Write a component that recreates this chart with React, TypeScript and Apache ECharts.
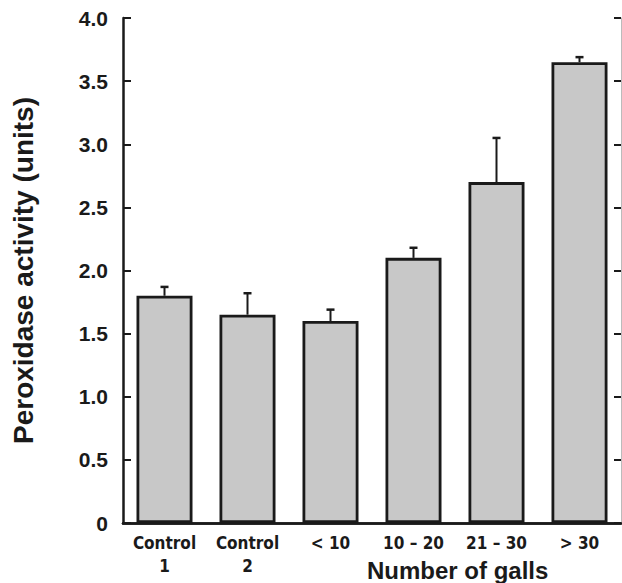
import React, { useEffect, useRef } from "react";
import * as echarts from "echarts";

const categories = ["Control\n1", "Control\n2", "< 10", "10 – 20", "21 – 30", "> 30"];
const activity = [1.8, 1.65, 1.6, 2.1, 2.7, 3.65];
const errorTop = [1.87, 1.82, 1.69, 2.18, 3.05, 3.69];
const yTicks = { min: 0, max: 4, interval: 0.5 };

export default function App() {
  const ref = useRef<HTMLDivElement>(null);
  useEffect(() => {
    if (!ref.current) return;
    const chart = echarts.init(ref.current, undefined, { renderer: "svg" });
    const black = "#1a1a1a";
    const errData = activity.map((v, i) => [i, v, errorTop[i]]);
    chart.setOption({
      animation: false,
      grid: { left: 123, right: 1, top: 18, bottom: 60 },
      xAxis: [
        {
          type: "category",
          data: categories,
          position: "bottom",
          axisLine: { lineStyle: { color: black, width: 2.5 } },
          axisTick: { inside: true, length: 6, lineStyle: { color: black, width: 2 } },
          axisLabel: {
            color: black,
            fontFamily: "'Liberation Sans Narrow', 'DejaVu Sans Condensed', 'Arial Narrow', sans-serif",
            fontWeight: "bold",
            fontSize: 17,
            lineHeight: 23,
            margin: 8,
          },
        },
        {
          type: "category",
          data: categories,
          position: "top",
          axisLine: { lineStyle: { color: black, width: 2.5 } },
          axisTick: { inside: true, length: 7, lineStyle: { color: black, width: 2 } },
          axisLabel: { show: false },
        },
      ],
      yAxis: [
        {
          type: "value",
          ...yTicks,
          position: "left",
          name: "Peroxidase activity (units)",
          nameLocation: "middle",
          nameGap: 86,
          nameTextStyle: {
            color: black,
            fontFamily: "'Liberation Sans', Arial, sans-serif",
            fontWeight: "bold",
            fontSize: 28,
          },
          splitLine: { show: false },
          axisLine: { show: true, lineStyle: { color: black, width: 2.5 } },
          axisTick: { show: true, inside: true, length: 8, lineStyle: { color: black, width: 2 } },
          axisLabel: {
            color: black,
            fontFamily: "'Liberation Sans', Arial, sans-serif",
            fontWeight: "bold",
            fontSize: 21,
            margin: 15,
            formatter: (v: number) => (v === 0 ? "0" : v.toFixed(1)),
          },
        },
        {
          type: "value",
          ...yTicks,
          position: "right",
          splitLine: { show: false },
          axisLine: { show: true, lineStyle: { color: "#bbb", width: 1 } },
          axisTick: { show: true, inside: true, length: 7, lineStyle: { color: black, width: 2 } },
          axisLabel: { show: false },
        },
      ],
      graphic: [
        {
          type: "text",
          left: 367,
          top: 558,
          style: {
            text: "Number of galls",
            fill: black,
            font: "bold 24px 'Liberation Sans', Arial, sans-serif",
          },
        },
      ],
      series: [
        {
          type: "bar",
          data: activity,
          barWidth: 56,
          itemStyle: { color: "#c8c8c8", borderColor: black, borderWidth: 2.8 },
        },
        {
          type: "custom",
          data: errData,
          z: 5,
          renderItem: (params: any, api: any) => {
            const base = api.coord([api.value(0), api.value(1)]);
            const top = api.coord([api.value(0), api.value(2)]);
            return {
              type: "group",
              children: [
                {
                  type: "line",
                  shape: { x1: base[0], y1: base[1], x2: top[0], y2: top[1] },
                  style: { stroke: black, lineWidth: 2 },
                },
                {
                  type: "line",
                  shape: { x1: top[0] - 4, y1: top[1], x2: top[0] + 4, y2: top[1] },
                  style: { stroke: black, lineWidth: 2.5 },
                },
              ],
            };
          },
        },
      ],
    });
    return () => chart.dispose();
  }, []);
  return (
    <div
      ref={ref}
      style={{ position: "absolute", left: 0, top: 0, width: 622, height: 583 }}
    />
  );
}
